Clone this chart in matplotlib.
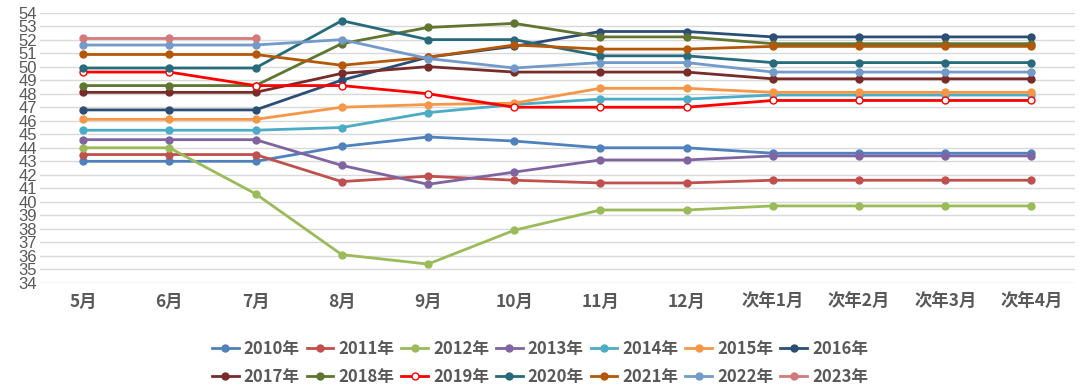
import matplotlib
matplotlib.use("Agg")
import matplotlib.pyplot as plt

plt.rcParams['font.family'] = ['Noto Sans CJK SC', 'DejaVu Sans']

months = ["5月", "6月", "7月", "8月", "9月", "10月", "11月", "12月",
          "次年1月", "次年2月", "次年3月", "次年4月"]

y2010 = [43.0, 43.0, 43.0, 44.1, 44.8, 44.5, 44.0, 44.0, 43.6, 43.6, 43.6, 43.6]
y2011 = [43.5, 43.5, 43.5, 41.5, 41.9, 41.6, 41.4, 41.4, 41.6, 41.6, 41.6, 41.6]
y2012 = [44.0, 44.0, 40.6, 36.1, 35.4, 37.9, 39.4, 39.4, 39.7, 39.7, 39.7, 39.7]
y2013 = [44.6, 44.6, 44.6, 42.7, 41.3, 42.2, 43.1, 43.1, 43.4, 43.4, 43.4, 43.4]
y2014 = [45.3, 45.3, 45.3, 45.5, 46.6, 47.2, 47.6, 47.6, 47.9, 47.9, 47.9, 47.9]
y2015 = [46.1, 46.1, 46.1, 47.0, 47.2, 47.3, 48.4, 48.4, 48.1, 48.1, 48.1, 48.1]
y2016 = [46.8, 46.8, 46.8, 49.0, 50.7, 51.5, 52.6, 52.6, 52.2, 52.2, 52.2, 52.2]
y2017 = [48.1, 48.1, 48.1, 49.5, 50.0, 49.6, 49.6, 49.6, 49.1, 49.1, 49.1, 49.1]
y2018 = [48.6, 48.6, 48.6, 51.7, 52.9, 53.2, 52.2, 52.2, 51.7, 51.7, 51.7, 51.7]
y2019 = [49.6, 49.6, 48.6, 48.6, 48.0, 47.0, 47.0, 47.0, 47.5, 47.5, 47.5, 47.5]
y2020 = [49.9, 49.9, 49.9, 53.4, 52.0, 52.0, 50.8, 50.8, 50.3, 50.3, 50.3, 50.3]
y2021 = [50.9, 50.9, 50.9, 50.1, 50.7, 51.6, 51.3, 51.3, 51.5, 51.5, 51.5, 51.5]
y2022 = [51.6, 51.6, 51.6, 52.0, 50.6, 49.9, 50.3, 50.3, 49.6, 49.6, 49.6, 49.6]
y2023 = [52.1, 52.1, 52.1]

series = [
    ("2010年", y2010, "#4F81BD"),
    ("2011年", y2011, "#C0504D"),
    ("2012年", y2012, "#9BBB59"),
    ("2013年", y2013, "#8064A2"),
    ("2014年", y2014, "#4BACC6"),
    ("2015年", y2015, "#F79646"),
    ("2016年", y2016, "#2C4D75"),
    ("2017年", y2017, "#772C2A"),
    ("2018年", y2018, "#5F7530"),
    ("2019年", y2019, "#FF0000"),
    ("2020年", y2020, "#276A7C"),
    ("2021年", y2021, "#B65708"),
    ("2022年", y2022, "#729ACA"),
    ("2023年", y2023, "#D37A7A"),
]

fig = plt.figure(figsize=(10.8, 3.88), dpi=100)
ax = fig.add_axes([0.037, 0.2706, 0.958, 0.697])

x = list(range(len(months)))
for name, vals, color in series:
    face = "white" if name == "2019年" else color
    ax.plot(x[:len(vals)], vals, color=color, lw=2, marker="o", markersize=5,
            markerfacecolor=face, markeredgecolor=color, label=name)

ax.set_xlim(-0.5, len(months) - 0.5)
ax.set_ylim(34, 54)
ax.set_yticks(range(34, 55))
ax.set_xticks(x)
ax.set_xticklabels(months, fontsize=12.5, fontweight="bold", color="#595959")
ax.tick_params(axis="y", labelsize=12, colors="#595959", length=0, pad=2)
ax.tick_params(axis="x", length=0, pad=7)
for lab in ax.get_yticklabels():
    lab.set_family(["Liberation Sans", "DejaVu Sans"])
ax.grid(axis="y", color="#D9D9D9", lw=1)
ax.set_axisbelow(True)
for s in ax.spines.values():
    s.set_visible(False)

# legend fills column by column, so interleave the two rows
handles, labels = ax.get_legend_handles_labels()
ncol = 7
order = []
for i in range(ncol):
    order += [i, i + ncol]
leg = fig.legend([handles[i] for i in order], [labels[i] for i in order],
                 loc="center", bbox_to_anchor=(0.5, 0.065), ncol=ncol, frameon=False,
                 prop={"size": 12, "weight": "bold"}, handlelength=1.6,
                 columnspacing=0.42, handletextpad=0.3, labelspacing=0.6)
for t in leg.get_texts():
    t.set_color("#595959")

fig.savefig("out.png", dpi=100)
